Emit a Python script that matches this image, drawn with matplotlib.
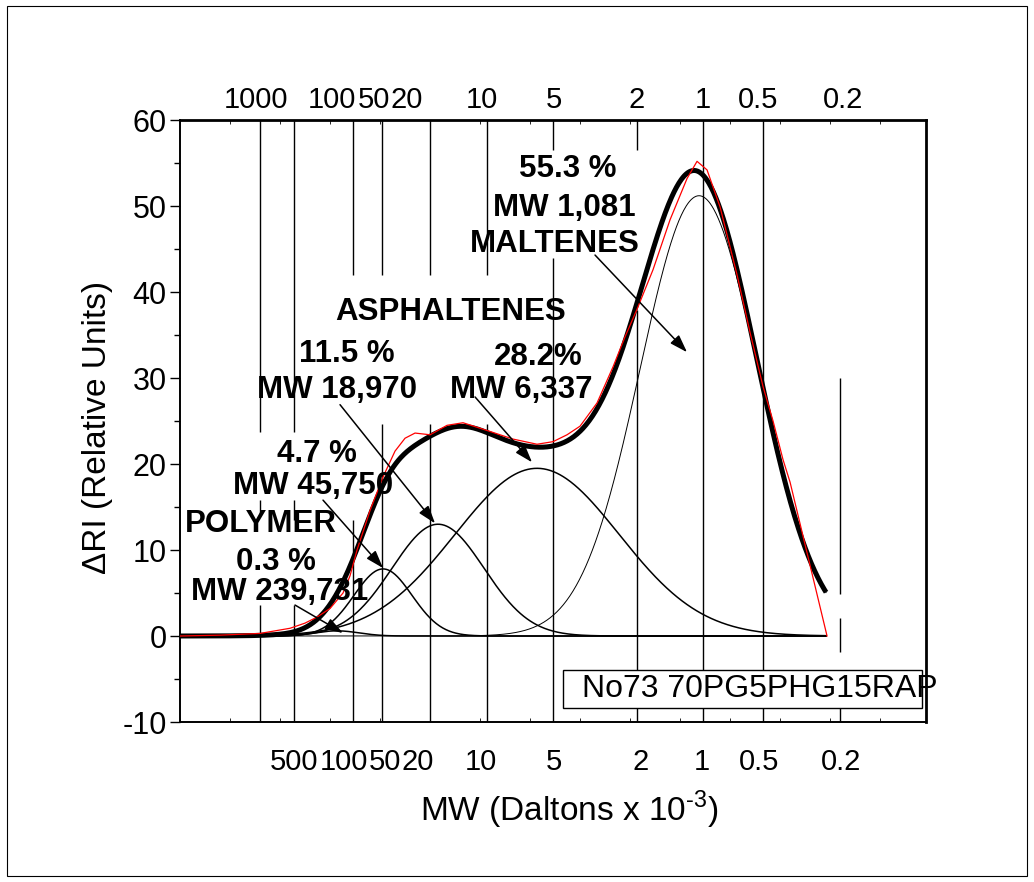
import numpy as np
import matplotlib
matplotlib.use('Agg')
import matplotlib.pyplot as plt
from matplotlib.patches import Rectangle

plt.rcParams['font.family'] = ['Liberation Sans', 'DejaVu Sans']
plt.rcParams['mathtext.fontset'] = 'custom'
plt.rcParams['mathtext.rm'] = 'Liberation Sans'
plt.rcParams['axes.unicode_minus'] = False

# fitted gaussian peaks (elution units, high MW on the left)
peak_names = ['polymer', 'asph_1', 'asph_2', 'asph_3', 'maltenes']
peak_centre = [17.85, 20.15, 22.9, 27.85, 35.95]
peak_height = [0.6, 7.8, 13.0, 19.5, 51.2]
peak_width = [1.1, 1.45, 2.3, 4.1, 2.95]

# measured RI trace
trace_x = [10.0, 12.0, 14.0, 15.5, 16.25, 16.85, 17.5, 18.15, 18.5, 18.85,
           19.5, 20.15, 20.75, 21.25, 21.75, 22.5, 23.35, 24.15, 25.35, 26.65,
           27.85, 28.65, 29.35, 30.0, 30.85, 31.65, 32.25, 32.85, 33.65, 34.5,
           35.35, 35.85, 36.35, 37.0, 37.85, 38.5, 39.15, 39.65, 40.15, 40.5, 42.35]
trace_ri = [0.0, 0.1, 0.3, 0.9, 1.5, 2.2, 3.2, 5.0, 7.0, 10.0,
            14.6, 18.5, 21.5, 23.0, 23.6, 23.4, 24.5, 24.8, 23.9, 22.9,
            22.3, 22.6, 23.4, 24.4, 27.1, 31.3, 34.8, 38.0, 42.6, 48.4,
            53.2, 55.2, 54.2, 49.9, 42.0, 35.3, 29.0, 25.0, 20.5, 17.9, 0.0]

# MW calibration lines (Daltons x 10^-3) and their visible pieces
cal_mw = ['1000', '500', '100', '50', '20', '10', '5', '2', '1', '0.5', '0.2']
cal_x = [14.0, 15.7, 18.65, 20.1, 22.5, 25.35, 28.65, 32.85, 36.15, 39.15, 43.0]
cal_pieces = [
    [(23.7, 60), (14.2, 15.8), (-10, 3.6)],
    [(23.7, 60), (13.5, 15.8), (-10, 3.6)],
    [(42.0, 60), (-10, 13.5)],
    [(42.0, 60), (-10, 24.7)],
    [(42.0, 60), (-10, 24.7)],
    [(42.0, 60), (-10, 24.7)],
    [(56.5, 60), (-10, 44.0)],
    [(56.5, 60), (-10, 37.9)],
    [(-10, 60)],
    [(-10, 60)],
    [(4.9, 30), (-1.9, 2.1), (-10, -4)],
]

top_labels = ['1000', '100', '50', '20', '10', '5', '2', '1', '0.5', '0.2']
top_x = [13.8, 17.6, 19.675, 21.35, 25.1, 28.7, 32.85, 36.15, 38.9, 43.15]
bottom_labels = ['500', '100', '50', '20', '10', '5', '2', '1', '0.5', '0.2']
bottom_x = [15.7, 18.175, 20.225, 21.875, 25.05, 28.7, 33.05, 36.1, 38.95, 43.05]

# peak annotations
notes = ['55.3 %', 'MW 1,081', 'MALTENES', 'ASPHALTENES', '11.5 %', 'MW 18,970',
         '28.2%', 'MW 6,337', '4.7 %', 'MW 45,750', 'POLYMER', '0.3 %', 'MW 239,731']
notes_x = [29.4, 29.2, 28.75, 23.55, 18.35, 17.85, 27.9, 27.05, 16.85, 16.65, 14.05, 14.8, 15.0]
notes_y = [54.3, 49.8, 45.6, 37.7, 32.8, 28.6, 32.4, 28.6, 21.2, 17.4, 13.0, 8.6, 5.1]

arrow_from = [(30.75, 44.3), (24.75, 27.8), (18.0, 26.9), (17.15, 15.8), (15.75, 3.6)]
arrow_to = [(35.35, 33.0), (27.6, 20.2), (22.75, 13.1), (20.15, 7.9), (18.15, 0.35)]

sample_name = 'No73 70PG5PHG15RAP'


fig = plt.figure(figsize=(10.34, 8.82), dpi=100)
ax = fig.add_axes([0.1741, 0.1814, 0.7215, 0.6825])

t = np.linspace(10, 42.3, 800)
total = np.zeros_like(t)
for name, c, h, w in zip(peak_names, peak_centre, peak_height, peak_width):
    y = h * np.exp(-0.5 * ((t - c) / w) ** 2)
    total += y
    ax.plot(t, y, color='black', lw=0.7 if name == 'maltenes' else 1.1, zorder=2)

ax.plot(t, total, color='black', lw=3.6, zorder=3, solid_capstyle='butt')
ax.plot(trace_x, trace_ri, color='red', lw=0.9, zorder=4)

for x, pieces in zip(cal_x, cal_pieces):
    for lo, hi in pieces:
        ax.vlines(x, lo, hi, color='black', lw=1.0, zorder=1)

for lab, x in zip(top_labels, top_x):
    ax.text(x, 62.3, lab, ha='center', va='center', fontsize=21, clip_on=False)
for lab, x in zip(bottom_labels, bottom_x):
    ax.text(x, -14.65, lab, ha='center', va='center', fontsize=21, clip_on=False)

for s, x, y in zip(notes, notes_x, notes_y):
    ax.text(x, y, s, ha='center', va='center', fontsize=22.5, fontweight='bold', zorder=5)

for p0, p1 in zip(arrow_from, arrow_to):
    ax.annotate('', xy=p1, xytext=p0,
                arrowprops=dict(arrowstyle='-|>,head_length=0.6,head_width=0.2',
                                mutation_scale=18, lw=1.1, color='black',
                                shrinkA=0, shrinkB=0), zorder=5)

ax.add_patch(Rectangle((29.15, -8.37), 17.95, 4.42, facecolor='white',
                       edgecolor='black', lw=1.0, zorder=6))
ax.text(30.1, -6.2, sample_name, ha='left', va='center', fontsize=23, zorder=7)

ax.set_xlim(10, 47.3)
ax.set_ylim(-10, 60)
ax.set_xticks([])
ax.set_xticks(np.arange(10, 47.3, 2.5), minor=True)
ax.tick_params(axis='x', which='minor', direction='in', length=3, top=True, bottom=True)
ax.set_yticks(np.arange(-10, 61, 10))
ax.set_yticks(np.arange(-5, 60, 10), minor=True)
ax.tick_params(axis='y', which='major', direction='out', length=7.5, width=1.0,
               labelsize=22, pad=2)
ax.tick_params(axis='y', which='minor', direction='out', length=4, width=1.0)

for side in ['top', 'right']:
    ax.spines[side].set_linewidth(2.0)
for side in ['left', 'bottom']:
    ax.spines[side].set_linewidth(1.4)

ax.set_xlabel('MW (Daltons x 10$^{\\mathregular{\u2010' + '3}}$)', fontsize=24)
ax.xaxis.set_label_coords(0.5214, -0.146)
ax.xaxis.label.set_va('center')
ax.set_ylabel('ΔRI (Relative Units)', fontsize=24)
ax.yaxis.set_label_coords(-0.111, 0.49)
ax.yaxis.label.set_va('center')

fig.patches.append(Rectangle((0.0068, 0.0068), 0.9865, 0.9864, transform=fig.transFigure,
                             fill=False, edgecolor='black', lw=0.8))

fig.savefig('out.png', dpi=100)
